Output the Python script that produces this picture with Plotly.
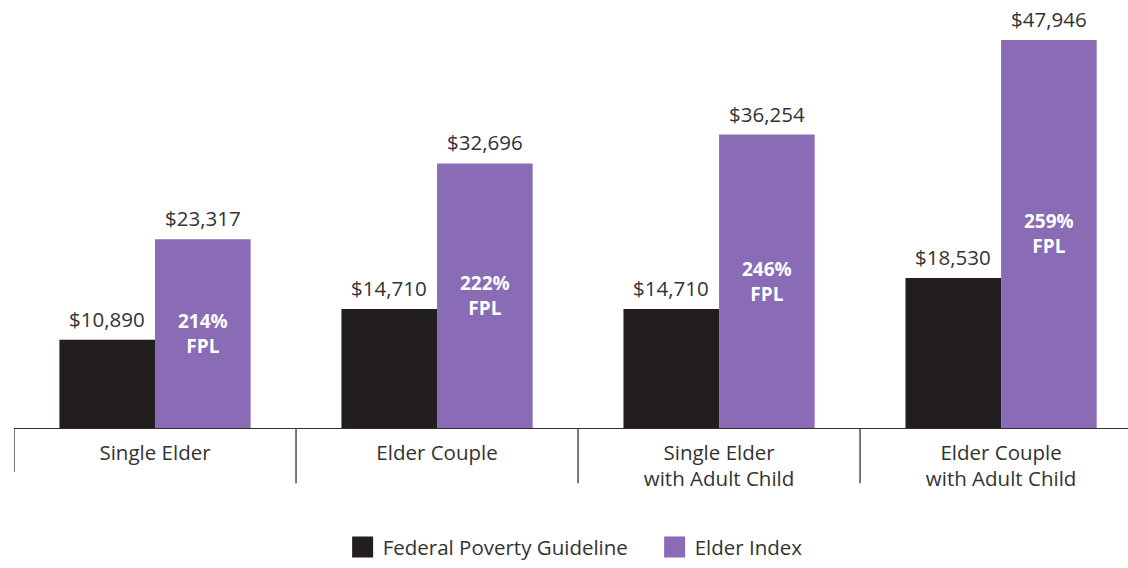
import plotly.graph_objects as go

categories = ["Single Elder", "Elder Couple", "Single Elder<br>with Adult Child", "Elder Couple<br>with Adult Child"]
fpl_values = [10890, 14710, 14710, 18530]
elder_values = [23317, 32696, 36254, 47946]
fpl_pct = ["214%", "222%", "246%", "259%"]

BLACK = "#221e1f"
PURPLE = "#8a6bb6"
TXT = "#333333"
FONT = "Open Sans"

x_idx = list(range(len(categories)))

fig = go.Figure()
fig.add_trace(go.Bar(x=x_idx, y=fpl_values, name="Federal Poverty Guideline",
                     marker=dict(color=BLACK, line=dict(width=0)), offsetgroup="a",
                     showlegend=False))
fig.add_trace(go.Bar(x=x_idx, y=elder_values, name="Elder Index",
                     marker=dict(color=PURPLE, line=dict(width=0)), offsetgroup="b",
                     showlegend=False))
# legend entries with larger square swatches
for nm, col in [("Federal Poverty Guideline", BLACK), ("Elder Index", PURPLE)]:
    fig.add_trace(go.Scatter(x=[None], y=[None], mode="markers", name=nm,
                             marker=dict(symbol="square", size=16, color=col,
                                         line=dict(color=col, width=5)),
                             showlegend=True, hoverinfo="skip"))

annotations = []
bw = 0.339
for i in x_idx:
    annotations.append(dict(x=i - bw / 2, y=fpl_values[i], xref="x", yref="y",
                            text=f"${fpl_values[i]:,}", showarrow=False, yanchor="bottom",
                            yshift=5, font=dict(family=FONT, size=20.5, color=TXT)))
    annotations.append(dict(x=i + bw / 2, y=elder_values[i], xref="x", yref="y",
                            text=f"${elder_values[i]:,}", showarrow=False, yanchor="bottom",
                            yshift=5, font=dict(family=FONT, size=20.5, color=TXT)))
    annotations.append(dict(x=i + bw / 2, y=elder_values[i] * 0.5, xref="x", yref="y",
                            text=f"<b>{fpl_pct[i]}<br>FPL</b>", showarrow=False,
                            yanchor="middle",
                            font=dict(family=FONT, size=19, color="white")))

shapes = []
for k, sx in enumerate([-0.5, 0.5, 1.5, 2.5]):
    shapes.append(dict(type="line", xref="x", yref="paper", x0=sx, x1=sx,
                       y0=0, y1=-0.105 if k == 0 else -0.132,
                       line=dict(color="#333333", width=1.3)))

fig.update_layout(
    width=1128, height=568,
    margin=dict(l=14, r=0, t=10, b=140),
    paper_bgcolor="white", plot_bgcolor="white",
    barmode="group", bargap=0.322, bargroupgap=0,
    font=dict(family=FONT, size=20, color=TXT),
    showlegend=True,
    legend=dict(orientation="h", x=0.295, xanchor="left", y=-0.237, yanchor="top",
                font=dict(family=FONT, size=20.5, color=TXT), traceorder="normal",
                itemwidth=30, entrywidth=267),
    annotations=annotations,
    shapes=shapes,
)
fig.update_xaxes(range=[-0.5, 3.45], tickmode="array", tickvals=x_idx, ticktext=categories,
                 showline=True, linecolor="#333333", linewidth=1.3, ticks="",
                 ticklabelstandoff=6,
                 showgrid=False, zeroline=False,
                 tickfont=dict(family=FONT, size=20.5, color=TXT))
fig.update_yaxes(range=[0, 51650], visible=False, showgrid=False, zeroline=False)

fig.write_html("out.html", config={"displayModeBar": False},
               post_script="document.body.style.margin='0';document.body.style.overflow='hidden';")
